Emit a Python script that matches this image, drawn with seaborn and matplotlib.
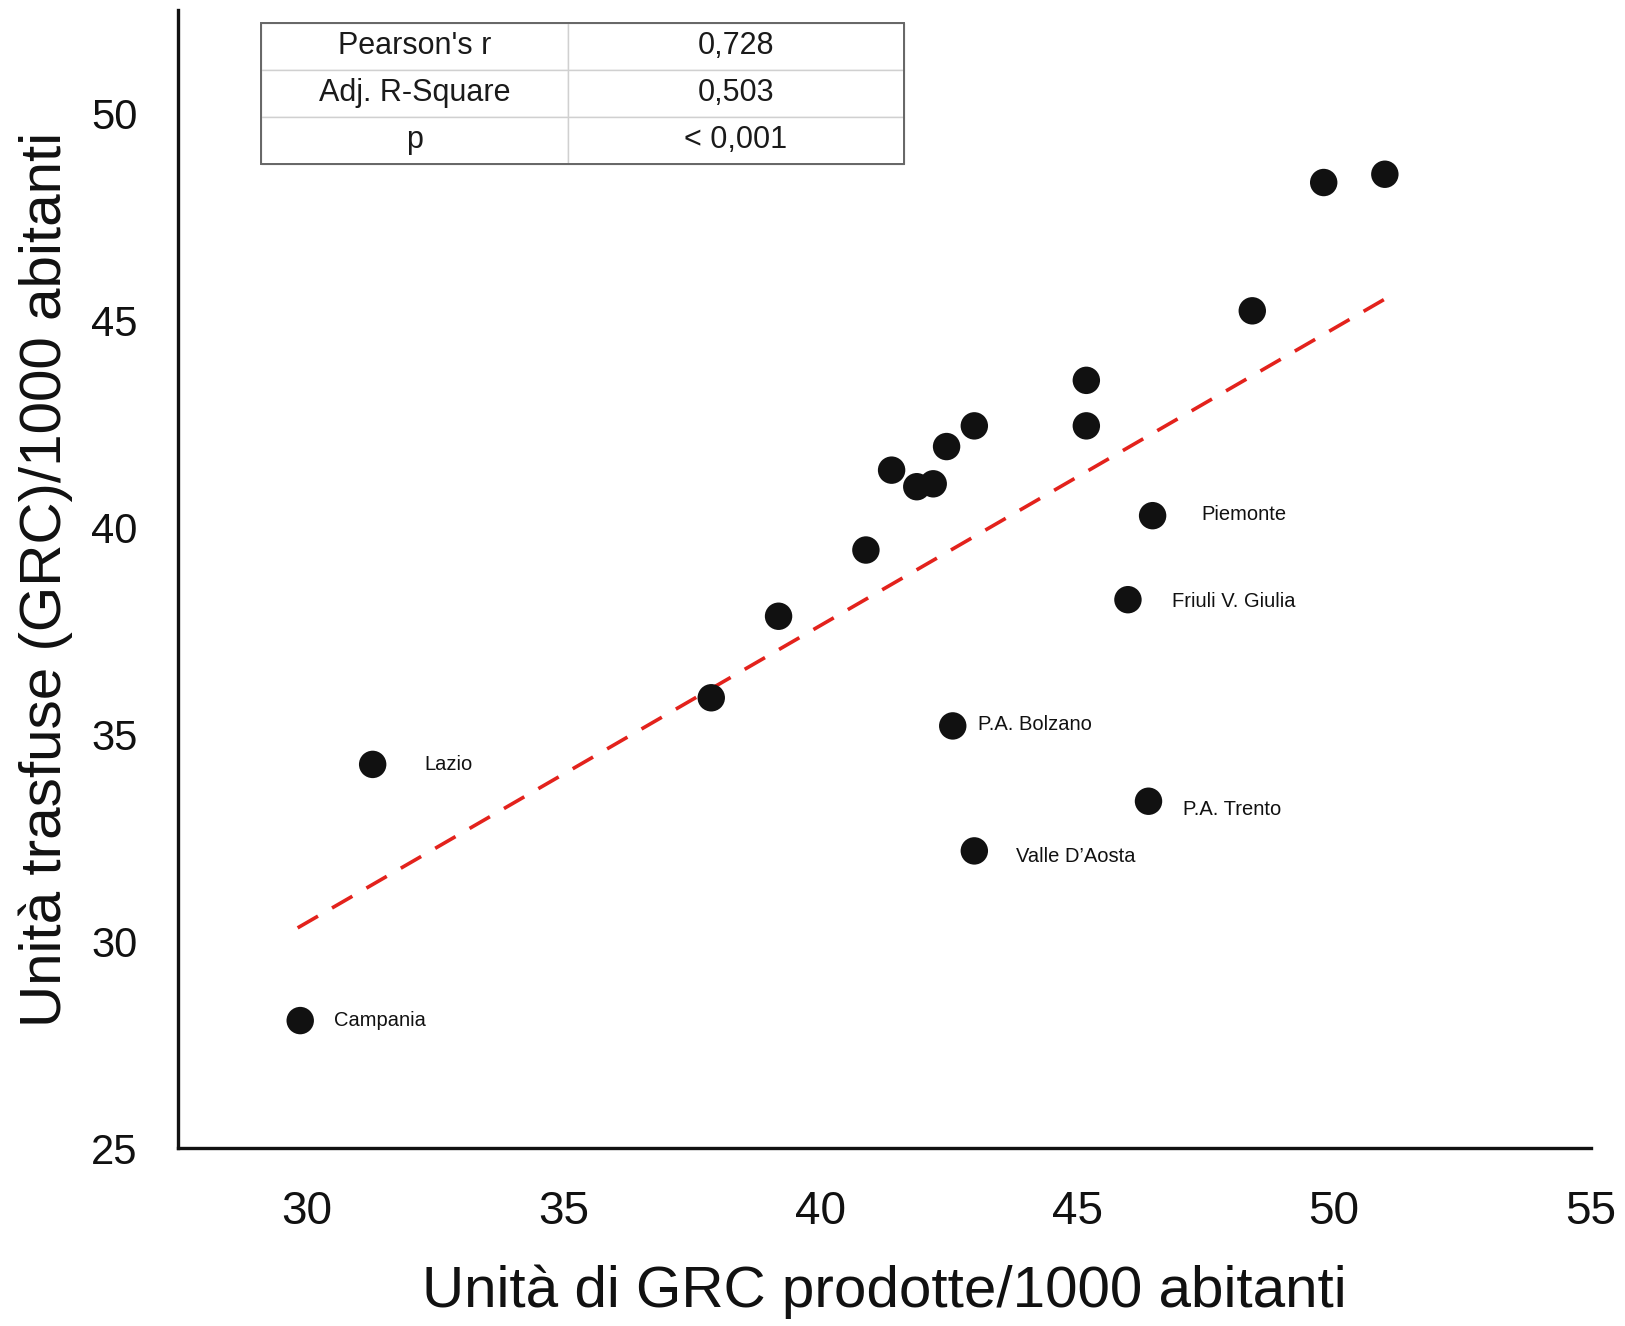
import matplotlib
matplotlib.use("Agg")
import matplotlib.pyplot as plt
import seaborn as sns
import pandas as pd
from matplotlib.patches import Rectangle

# ---- data ----
regions = ["Campania", "Lazio", "", "", "", "", "", "", "", "",
           "P.A. Bolzano", "Valle D\u2019Aosta", "", "", "Piemonte",
           "Friuli V. Giulia", "P.A. Trento", "", "", ""]
grc_prodotte = [29.88, 31.29, 37.88, 39.19, 40.89, 41.39, 41.88, 42.20, 42.46, 43.00,
                42.58, 43.00, 45.18, 45.18, 46.47, 45.99, 46.39, 48.41, 49.80, 50.99]
grc_trasfuse = [28.08, 34.27, 35.88, 37.85, 39.45, 41.38, 40.98, 41.05, 41.95, 42.45,
                35.20, 32.18, 43.55, 42.45, 40.28, 38.25, 33.38, 45.23, 48.33, 48.53]
fit_x = [29.83, 50.97]
fit_y = [30.32, 45.50]
label_offsets = {"Campania": (24, 0), "Lazio": (37, 0), "P.A. Bolzano": (18, 1),
                 "Valle D\u2019Aosta": (30, -4), "Piemonte": (35, 1),
                 "Friuli V. Giulia": (32, -1), "P.A. Trento": (25, -6)}
stats_names = ["Pearson's r", "Adj. R-Square", "p"]
stats_values = ["0,728", "0,503", "< 0,001"]
x_ticks = [30, 35, 40, 45, 50, 55]
y_ticks = [25, 30, 35, 40, 45, 50]

df = pd.DataFrame({"region": regions, "x": grc_prodotte, "y": grc_trasfuse})
fit = pd.DataFrame({"x": fit_x, "y": fit_y})

sns.set_theme(style="white")
plt.rcParams["font.family"] = ["Liberation Sans", "DejaVu Sans"]

fig = plt.figure(figsize=(16.25, 13.26), dpi=100)
ax = fig.add_axes([0.1095, 0.1342, 0.8695, 0.8583])

sns.lineplot(data=fit, x="x", y="y", ax=ax, color="#e3221c", linewidth=2.6,
             dashes=False, linestyle=(0, (6.5, 4.5)), zorder=2)
sns.scatterplot(data=df, x="x", y="y", ax=ax, color="#111111", s=390,
                edgecolor="none", zorder=3)

for r, xv, yv in zip(regions, grc_prodotte, grc_trasfuse):
    if r:
        dx, dy = label_offsets[r]
        ax.annotate(r, (xv, yv), xytext=(dx, dy), textcoords="offset points",
                    ha="left", va="center", fontsize=14.5, color="#111111")

ax.set_xlim(27.5, 55)
ax.set_ylim(25, 52.5)
ax.set_xticks(x_ticks)
ax.set_yticks(y_ticks)
ax.tick_params(axis="x", length=0, pad=30, labelsize=33, colors="#111111")
ax.tick_params(axis="y", length=0, pad=29, labelsize=30, colors="#111111")
ax.set_xlabel("Unità di GRC prodotte/1000 abitanti", fontsize=42, labelpad=22,
              color="#111111")
ax.set_ylabel("Unità trasfuse (GRC)/1000 abitanti", fontsize=42, labelpad=13,
              color="#111111")
ax.grid(False)
for side in ["top", "right"]:
    ax.spines[side].set_visible(False)
for side in ["left", "bottom"]:
    ax.spines[side].set_color("#111111")
    ax.spines[side].set_linewidth(2.4)

# stats table (figure pixel box: x 261-904, y 23-164 from top)
tbl = ax.table(cellText=[[n, v] for n, v in zip(stats_names, stats_values)],
               cellLoc="center", colWidths=[0.477, 0.523],
               bbox=[(261 - 178) / (1591 - 178), (1148 - 164) / (1148 - 10),
                     (904 - 261) / (1591 - 178), (164 - 23) / (1148 - 10)])
tbl.auto_set_font_size(False)
for (r, c), cell in tbl.get_celld().items():
    cell.set_text_props(fontsize=22, color="#1a1a1a")
    cell.set_edgecolor("#d0d0d0")
    cell.set_linewidth(1.0)
    cell.set_facecolor("white")
tbl.set_zorder(5)
bb = tbl._bbox
ax.add_patch(Rectangle((bb[0], bb[1]), bb[2], bb[3], transform=ax.transAxes,
                       fill=False, edgecolor="#666666", linewidth=1.4, zorder=6))

fig.savefig("out.png", dpi=100)
